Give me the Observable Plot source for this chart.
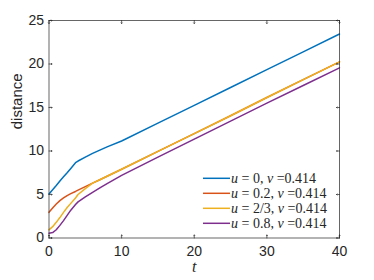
<!DOCTYPE html>
<html><head><meta charset="utf-8">
<script src="https://cdn.jsdelivr.net/npm/d3@7"></script>
<script src="https://cdn.jsdelivr.net/npm/@observablehq/plot@0.6"></script>
<style>body{margin:0;background:#fff} svg{display:block}</style>
</head><body><div id="chart"></div>
<script>
const t        = [0, 0.5, 1, 1.5, 2, 2.5, 3, 3.65, 4, 5, 6, 7, 8, 10, 15, 20, 25, 30, 35, 40];
const dist_u0  = [5.05, 5.55, 6.03, 6.55, 7.03, 7.5, 8.0, 8.66, 8.85, 9.3, 9.72, 10.1, 10.47, 11.15, 13.2, 15.25, 17.3, 19.35, 21.4, 23.45];
const dist_u02 = [2.95, 3.45, 3.9, 4.3, 4.6, 4.88, 5.1, 5.35, 5.5, 5.9, 6.3, 6.7, 7.1, 7.9, 9.95, 12.0, 14.05, 16.15, 18.2, 20.25];
const dist_u23 = [0.94, 1.3, 1.8, 2.35, 2.95, 3.5, 3.98, 4.6, 5.0, 5.68, 6.3, 6.7, 7.1, 7.9, 9.95, 12.0, 14.05, 16.15, 18.2, 20.25];
const dist_u08 = [0.55, 0.62, 0.95, 1.45, 2.0, 2.6, 3.2, 3.85, 4.15, 4.72, 5.25, 5.75, 6.25, 7.2, 9.3, 11.37, 13.43, 15.5, 17.53, 19.56];

const seriesNames = ["u0", "u02", "u23", "u08"];
const uLabels = ["0", "0.2", "2/3", "0.8"];
const vLabel = "0.414";
const colors = ["#0072BD", "#D95319", "#EDB120", "#7E2F8E"];
const xTicks = [0, 10, 20, 30, 40];
const yTicks = [0, 5, 10, 15, 20, 25];

const rows = [];
[dist_u0, dist_u02, dist_u23, dist_u08].forEach((arr, i) =>
  arr.forEach((d, j) => rows.push({t: t[j], d, s: seriesNames[i]})));

const ink = "#262626";
const plot = Plot.plot({
  width: 374, height: 280,
  marginLeft: 48.5, marginRight: 35, marginTop: 20, marginBottom: 42.5,
  x: {domain: [0, 40]},
  y: {domain: [0, 25]},
  color: {domain: seriesNames, range: colors},
  style: {fontFamily: "'Liberation Sans', Arial, sans-serif", color: ink, background: "#fff"},
  marks: [
    Plot.line(rows, {x: "t", y: "d", stroke: "s", strokeWidth: 1.5}),
    Plot.frame({stroke: ink, strokeWidth: 0.7}),
    Plot.axisX(xTicks, {tickSize: 0, tickPadding: 8, fontSize: 14, label: null}),
    Plot.axisY(yTicks, {tickSize: 0, tickPadding: 5, fontSize: 14, label: null}),
    Plot.vector(xTicks, {x: d => d, y: 0, length: 3, rotate: 0, anchor: "start", stroke: ink, strokeWidth: 0.7}),
    Plot.vector(xTicks, {x: d => d, y: 25, length: 3, rotate: 180, anchor: "start", stroke: ink, strokeWidth: 0.7}),
    Plot.vector(yTicks, {x: 0, y: d => d, length: 3, rotate: 90, anchor: "start", stroke: ink, strokeWidth: 0.7}),
    Plot.vector(yTicks, {x: 40, y: d => d, length: 3, rotate: -90, anchor: "start", stroke: ink, strokeWidth: 0.7}),
    Plot.text(["t"], {frameAnchor: "bottom", dy: 34, lineAnchor: "bottom", fontStyle: "italic", fontFamily: "'Liberation Serif', serif", fontSize: 16, fill: ink}),
    Plot.text(["distance"], {frameAnchor: "left", dx: -31.5, rotate: -90, fontSize: 15, fill: ink})
  ]
});
document.getElementById("chart").append(plot);

const g = d3.select(plot).append("g")
  .attr("font-family", "'Liberation Serif', serif")
  .attr("font-size", 14)
  .attr("fill", ink)
  .attr("text-anchor", "start")
  .style("white-space", "pre");
uLabels.forEach((u, i) => {
  const y = 178.3 + i * 15;
  g.append("line").attr("x1", 203).attr("x2", 230).attr("y1", y).attr("y2", y)
    .attr("stroke", colors[i]).attr("stroke-width", 1.5);
  const txt = g.append("text").attr("x", 231).attr("y", y).attr("dy", "0.32em");
  txt.append("tspan").attr("font-style", "italic").text("u");
  txt.append("tspan").text(` = ${u}, `);
  txt.append("tspan").attr("font-style", "italic").text("v");
  txt.append("tspan").text(" =" + vLabel);
});
</script></body></html>
